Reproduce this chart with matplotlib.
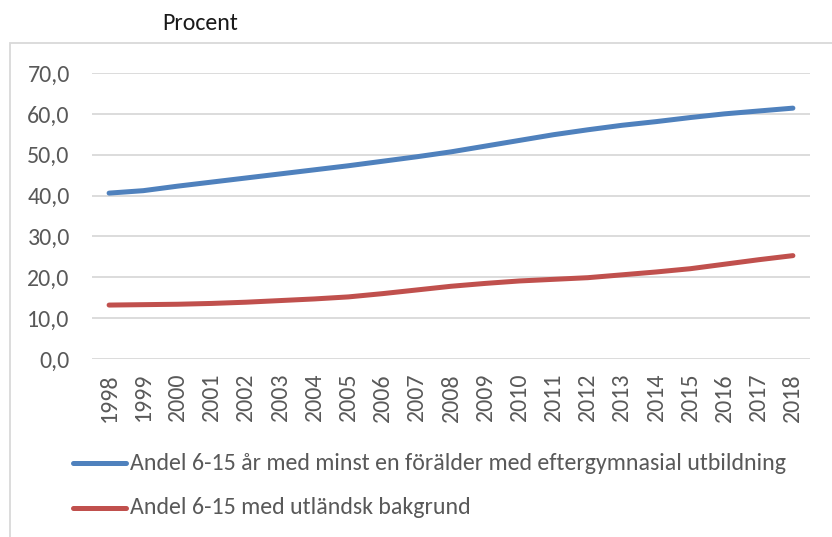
import matplotlib.pyplot as plt
from matplotlib.lines import Line2D
from matplotlib.patches import Rectangle

plt.rcParams['font.family'] = ['Carlito', 'DejaVu Sans']

years = list(range(1998, 2019))
eftergymnasial = [40.6, 41.2, 42.3, 43.3, 44.3, 45.3, 46.3, 47.3, 48.4, 49.5, 50.7,
                  52.1, 53.5, 54.9, 56.1, 57.2, 58.1, 59.1, 60.0, 60.7, 61.4]
utlandsk = [13.2, 13.3, 13.4, 13.6, 13.9, 14.3, 14.7, 15.2, 16.0, 16.9, 17.8,
            18.5, 19.1, 19.5, 19.9, 20.6, 21.3, 22.1, 23.2, 24.3, 25.3]
labels = ['Andel 6-15 år med minst en förälder med eftergymnasial utbildning',
          'Andel 6-15 med utländsk bakgrund']
colors = ['#4f81bd', '#c0504d']
yticks = [0, 10, 20, 30, 40, 50, 60, 70]

W, H = 832, 537
fs = 17.2
fig = plt.figure(figsize=(W / 100, H / 100), dpi=100)
ax = fig.add_axes([92 / W, 1 - 359 / H, (810 - 92) / W, (359 - 73) / H])

for ys, col in zip([eftergymnasial, utlandsk], colors):
    ax.plot(years, ys, color=col, lw=3.6, solid_capstyle='round', zorder=3)

ax.set_xlim(1997.5, 2018.5)
ax.set_ylim(0, 70)
ax.set_yticks(yticks)
ax.set_yticklabels([f'{v:.1f}'.replace('.', ',') for v in yticks])
ax.set_xticks(years)
ax.set_xticklabels([str(y) for y in years], rotation=90)
ax.tick_params(length=0, labelsize=fs, labelcolor='#595959')
ax.tick_params(axis='y', pad=16)
ax.tick_params(axis='x', pad=10)
ax.grid(axis='y', color='#d9d9d9', lw=1.3)
ax.set_axisbelow(True)
for s in ax.spines.values():
    s.set_visible(False)

# chart frame (only left and top edges show inside the picture)
fig.patches.append(Rectangle((10 / W, -0.1), 1.2, 1 - 43 / H + 0.1,
                             transform=fig.transFigure, fill=False,
                             edgecolor='#d9d9d9', lw=1.3))

fig.text(162 / W, 1 - 23 / H, 'Procent', fontsize=fs, color='#1a1a1a',
         ha='left', va='center')

# legend, drawn by hand to match the Excel layout
for i, (lab, col) in enumerate(zip(labels, colors)):
    y = 1 - (463 + 45 * i) / H
    fig.add_artist(Line2D([73 / W, 126 / W], [y, y], transform=fig.transFigure,
                          color=col, lw=3.6, solid_capstyle='round'))
    fig.text(130 / W, y, lab, fontsize=fs, color='#595959', ha='left', va='center')

fig.savefig('out.png', dpi=100)
